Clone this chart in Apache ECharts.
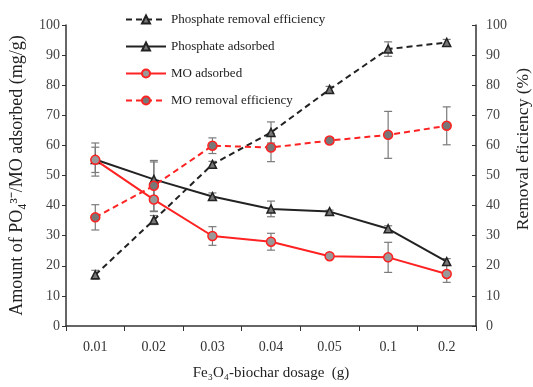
<!DOCTYPE html>
<html>
<head>
<meta charset="utf-8">
<script src="https://cdn.jsdelivr.net/npm/echarts@6/dist/echarts.min.js"></script>
<style>
  html, body { margin: 0; padding: 0; background: #fff; }
  #main { width: 533px; height: 387px; }
</style>
</head>
<body>
<div id="main"></div>
<script>
var dosage = ['0.01', '0.02', '0.03', '0.04', '0.05', '0.1', '0.2'];
// values
var pRemoval = [17.0, 35.2, 53.7, 64.3, 78.6, 92.0, 94.2];
var pRemovalErr = [1.5, 1.5, 1.0, 3.5, 1.0, 2.4, 1.0];
var pAdsorbed = [55.3, 48.7, 43.0, 38.9, 38.0, 32.3, 21.4];
var pAdsorbedErr = [5.5, 5.8, 1.2, 2.6, 0.5, 1.0, 1.0];
var moAdsorbed = [55.2, 42.0, 29.9, 28.0, 23.2, 22.8, 17.3];
var moAdsorbedErr = [4.2, 4.0, 3.1, 2.8, 0.6, 5.0, 2.8];
var moRemoval = [36.1, 46.6, 59.9, 59.3, 61.6, 63.5, 66.5];
var moRemovalErr = [4.2, 8.4, 2.6, 4.7, 1.0, 7.8, 6.3];
var yTicks = [0, 100, 10];

var font = '"Liberation Serif", "Times New Roman", serif';

function errSeries(vals, errs, yIdx) {
    return {
        type: 'custom',
        yAxisIndex: yIdx,
        z: 1,
        silent: true,
        data: vals.map(function (v, i) { return [i, v - errs[i], v + errs[i]]; }),
        renderItem: function (params, api) {
            var lo = api.coord([api.value(0), api.value(1)]);
            var hi = api.coord([api.value(0), api.value(2)]);
            var w = 4;
            var st = { stroke: '#7a7a7a', lineWidth: 1.2 };
            return {
                type: 'group',
                children: [
                    { type: 'line', shape: { x1: lo[0], y1: lo[1], x2: hi[0], y2: hi[1] }, style: st },
                    { type: 'line', shape: { x1: lo[0] - w, y1: lo[1], x2: lo[0] + w, y2: lo[1] }, style: st },
                    { type: 'line', shape: { x1: hi[0] - w, y1: hi[1], x2: hi[0] + w, y2: hi[1] }, style: st }
                ]
            };
        }
    };
}

var myChart = echarts.init(document.getElementById('main'));
var option = {
    animation: false,
    textStyle: { fontFamily: font },
    grid: { left: 60, right: 57, top: 25, bottom: 61 },
    legend: {
        left: 120,
        top: 8,
        orient: 'vertical',
        itemGap: 14,
        itemWidth: 40,
        itemHeight: 10,
        textStyle: { fontFamily: font, fontSize: 13, color: '#222' },
        data: ['Phosphate removal efficiency', 'Phosphate adsorbed', 'MO adsorbed', 'MO removal efficiency']
    },
    // right axis title sits a little above the axis middle in the original
    graphic: [{
        type: 'text',
        left: 514,
        top: 68,
        rotation: Math.PI / 2,
        style: {
            text: 'Removal eficiency (%)',
            fontFamily: font,
            fontSize: 17.5,
            fill: '#222'
        }
    }],
    xAxis: {
        type: 'category',
        data: dosage,
        boundaryGap: true,
        name: 'Fe\u2083O\u2084-biochar dosage  (g)',
        nameLocation: 'middle',
        nameGap: 40,
        nameTextStyle: { fontFamily: font, fontSize: 15, color: '#222' },
        axisLine: { lineStyle: { color: '#333', width: 1.5 } },
        axisTick: { show: true, length: 5, lineStyle: { color: '#333' } },
        axisLabel: { fontFamily: font, fontSize: 14, color: '#333', margin: 14 }
    },
    yAxis: [{
        type: 'value',
        min: yTicks[0], max: yTicks[1], interval: yTicks[2],
        name: 'Amount of PO\u2084\u00b3\u207b/MO adsorbed (mg/g)',
        nameLocation: 'middle',
        nameGap: 40,
        nameTextStyle: { fontFamily: font, fontSize: 18, color: '#222' },
        axisLine: { show: true, lineStyle: { color: '#333', width: 1.5 } },
        axisTick: { show: true, length: 4, lineStyle: { color: '#333' } },
        axisLabel: { fontFamily: font, fontSize: 14, color: '#444', margin: 6 },
        splitLine: { show: false }
    }, {
        type: 'value',
        min: yTicks[0], max: yTicks[1], interval: yTicks[2],
        axisLine: { show: true, lineStyle: { color: '#333', width: 1.5 } },
        axisTick: { show: true, inside: true, length: 4, lineStyle: { color: '#333' } },
        axisLabel: { fontFamily: font, fontSize: 14, color: '#444', margin: 10 },
        splitLine: { show: false }
    }],
    series: [
        errSeries(pRemoval, pRemovalErr, 1),
        errSeries(pAdsorbed, pAdsorbedErr, 0),
        errSeries(moAdsorbed, moAdsorbedErr, 0),
        errSeries(moRemoval, moRemovalErr, 1),
        {
            name: 'Phosphate removal efficiency',
            type: 'line',
            yAxisIndex: 1,
            data: pRemoval,
            symbol: 'triangle',
            symbolSize: 8,
            lineStyle: { color: '#222', width: 2, type: [6, 4] },
            itemStyle: { color: '#777', borderColor: '#222', borderWidth: 1.5 },
            z: 3
        },
        {
            name: 'Phosphate adsorbed',
            type: 'line',
            data: pAdsorbed,
            symbol: 'triangle',
            symbolSize: 8,
            lineStyle: { color: '#222', width: 2 },
            itemStyle: { color: '#777', borderColor: '#222', borderWidth: 1.5 },
            z: 3
        },
        {
            name: 'MO adsorbed',
            type: 'line',
            data: moAdsorbed,
            symbol: 'circle',
            symbolSize: 9,
            lineStyle: { color: '#f22', width: 2 },
            itemStyle: { color: '#999', borderColor: '#f22', borderWidth: 1.5 },
            z: 3
        },
        {
            name: 'MO removal efficiency',
            type: 'line',
            yAxisIndex: 1,
            data: moRemoval,
            symbol: 'circle',
            symbolSize: 9,
            lineStyle: { color: '#f22', width: 2, type: [6, 4] },
            itemStyle: { color: '#777', borderColor: '#f22', borderWidth: 1.5 },
            z: 3
        }
    ]
};
myChart.setOption(option);
window.onresize = function () {
    myChart.resize();
};
</script>
</body>
</html>
